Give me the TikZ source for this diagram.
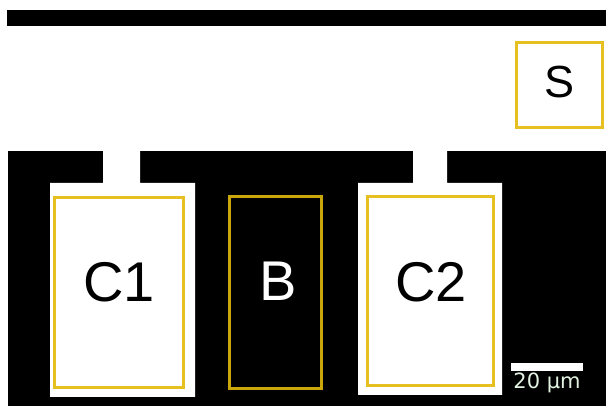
\documentclass[tikz,border=0pt]{standalone}
\usepackage{fontspec}
\setmainfont{Liberation Sans}
\newfontfamily\barfont{DejaVu Sans}
\definecolor{ylw}{HTML}{E6C020}
\definecolor{ylwdark}{HTML}{C9A60C}
\definecolor{bartext}{HTML}{E2F2E0}
\begin{document}
\begin{tikzpicture}[x=1pt,y=-1pt,
  roi/.style={draw=ylw,line width=3.0pt},
  lbl/.style={inner sep=0pt,font=\fontsize{56}{56}\selectfont},
  cell/.style={fill=white}]
\useasboundingbox[fill=white] (0,0) rectangle (606,406);
% top black bar
\fill[black] (7,10) rectangle (606,26);
% lower black region
\fill[black] (8,151) rectangle (606,406);
% C1 cell shape
\fill[cell] (103,150) -- (140,150) -- (140,183) -- (195,183) -- (195,397) -- (50,397) -- (50,183) -- (103,183) -- cycle;
% C2 cell shape
\fill[cell] (413,150) -- (447,150) -- (447,183) -- (502,183) -- (502,395) -- (358,395) -- (358,183) -- (413,183) -- cycle;
% ROI boxes
\draw[roi] (54,198) rectangle (183,388);
\draw[roi,draw=ylwdark] (229,197) rectangle (321,389);
\draw[roi] (367,197) rectangle (493,386);
\draw[roi] (516,43) rectangle (602,128);
% labels
\node[lbl] (c1) at (119,282) {C1};
\node[lbl,text=white] (b) at (278,281) {B};
\node[lbl] (c2) at (431,282) {C2};
\node[lbl,font=\fontsize{45}{45}\selectfont] (s) at (560,82) {S};
% scale bar
\fill[white] (511,363) rectangle (583,371);
\node[inner sep=0pt,text=bartext,font=\barfont\fontsize{21}{21}\selectfont] (sb) at (547,383) {20 µm};
\end{tikzpicture}
\end{document}
